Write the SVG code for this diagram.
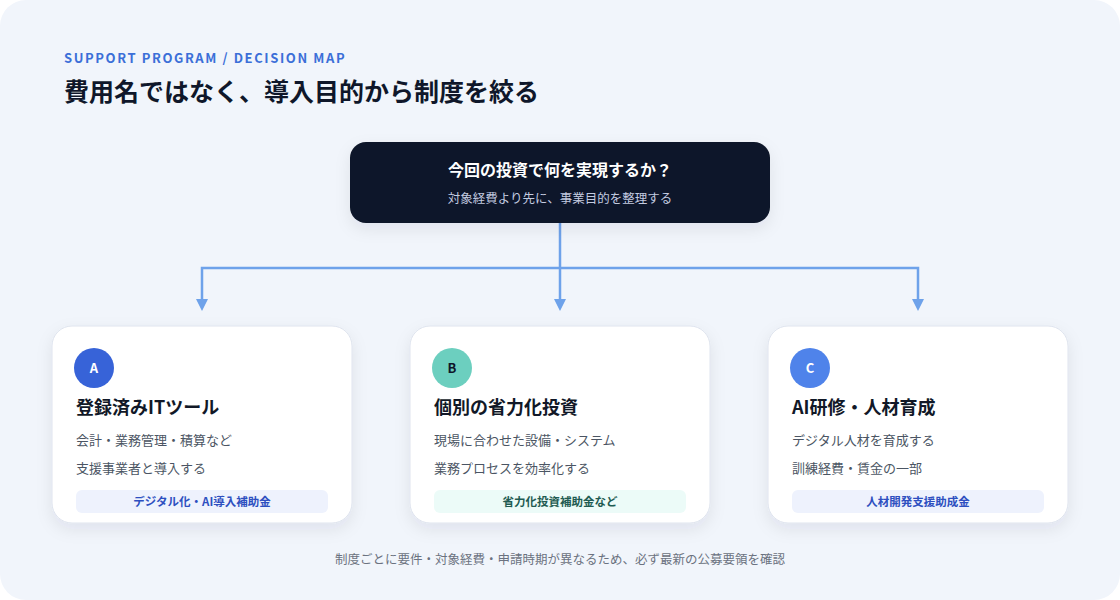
<svg xmlns="http://www.w3.org/2000/svg" width="1120" height="600" viewBox="0 0 1120 600">
<defs>
<style>
.t{font-family:"Noto Sans CJK JP","Noto Sans",sans-serif}
.card{fill:#fff;stroke:#dfe4ee;stroke-width:1}
.ttl{font-size:18px;font-weight:700;fill:#111827}
.body{font-size:13px;fill:#4b5563}
.tag{font-size:11.5px;font-weight:700;fill:#2d4fc0}
.conn{fill:none;stroke:#6ea2ea;stroke-width:2.5}
</style>
<marker id="ah" markerWidth="10" markerHeight="10" refX="5" refY="8" orient="auto" markerUnits="userSpaceOnUse"><path d="M0,0 L10,0 L5,9 Z" fill="#6ea2ea" transform="rotate(-90 5 5)"/></marker>
<filter id="sh" x="-20%" y="-20%" width="140%" height="150%"><feDropShadow dx="0" dy="6" stdDeviation="8" flood-color="#1e293b" flood-opacity="0.08"/></filter>
</defs>
<rect width="1120" height="600" fill="#ffffff"/>
<rect x="0" y="0" width="1120" height="600" rx="26" fill="#f1f5fb"/>
<text class="t" x="64" y="63" font-size="13" font-weight="700" fill="#3b6fd8" letter-spacing="1.6">SUPPORT PROGRAM / DECISION MAP</text>
<text class="t" x="64" y="101" font-size="25" font-weight="700" fill="#0f172a">費用名ではなく、導入目的から制度を絞る</text>
<g id="connectors">
<path class="conn" d="M560,223 V300"/>
<path class="conn" d="M202,300 V268 H918 V300"/>
<path d="M554,299 L566,299 L560,311 Z M196,299 L208,299 L202,311 Z M912,299 L924,299 L918,311 Z" fill="#6ea2ea"/>
</g>
<g id="root">
<rect x="350" y="142" width="420" height="81" rx="16" fill="#0f1729" filter="url(#sh)"/>
<text class="t" x="560" y="176" text-anchor="middle" font-size="16" font-weight="700" fill="#fff">今回の投資で何を実現するか？</text>
<text class="t" x="560" y="203" text-anchor="middle" font-size="12.5" fill="#c3cbe0">対象経費より先に、事業目的を整理する</text>
</g>
<g id="cardA">
<rect class="card" x="52" y="326" width="300" height="197" rx="20" filter="url(#sh)"/>
<circle cx="94" cy="368" r="20" fill="#3763d8"/>
<text class="t" x="94" y="373" text-anchor="middle" font-size="13" font-weight="700" fill="#fff">A</text>
<text class="t ttl" x="76" y="414">登録済みITツール</text>
<text class="t body" x="76" y="445">会計・業務管理・積算など</text>
<text class="t body" x="76" y="473">支援事業者と導入する</text>
<rect x="76" y="490" width="252" height="23" rx="6" fill="#eef2fd"/>
<text class="t tag" x="202" y="506" text-anchor="middle">デジタル化・AI導入補助金</text>
</g>
<g id="cardB">
<rect class="card" x="410" y="326" width="300" height="197" rx="20" stroke="#cdeee6" filter="url(#sh)"/>
<circle cx="452" cy="368" r="20" fill="#6ccfbf"/>
<text class="t" x="452" y="373" text-anchor="middle" font-size="13" font-weight="700" fill="#0f172a">B</text>
<text class="t ttl" x="434" y="414">個別の省力化投資</text>
<text class="t body" x="434" y="445">現場に合わせた設備・システム</text>
<text class="t body" x="434" y="473">業務プロセスを効率化する</text>
<rect x="434" y="490" width="252" height="23" rx="6" fill="#ecfbf8"/>
<text class="t tag" x="560" y="506" text-anchor="middle" fill="#1f5b52" style="fill:#1f5b52">省力化投資補助金など</text>
</g>
<g id="cardC">
<rect class="card" x="768" y="326" width="300" height="197" rx="20" filter="url(#sh)"/>
<circle cx="810" cy="368" r="20" fill="#4f83ea"/>
<text class="t" x="810" y="373" text-anchor="middle" font-size="13" font-weight="700" fill="#fff">C</text>
<text class="t ttl" x="792" y="414">AI研修・人材育成</text>
<text class="t body" x="792" y="445">デジタル人材を育成する</text>
<text class="t body" x="792" y="473">訓練経費・賃金の一部</text>
<rect x="792" y="490" width="252" height="23" rx="6" fill="#eef2fd"/>
<text class="t tag" x="918" y="506" text-anchor="middle">人材開発支援助成金</text>
</g>
<text class="t" x="560" y="564" text-anchor="middle" font-size="12.5" fill="#6b7280">制度ごとに要件・対象経費・申請時期が異なるため、必ず最新の公募要領を確認</text>
</svg>
